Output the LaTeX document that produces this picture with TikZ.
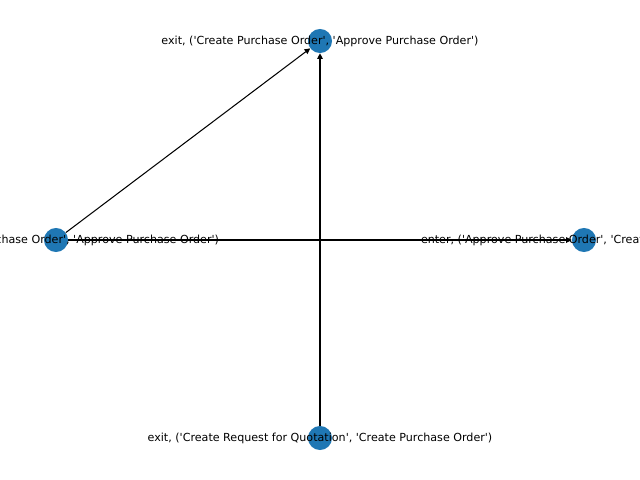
\documentclass[tikz,border=0pt]{standalone}
\usepackage{fontspec}
\setmainfont{DejaVu Sans}[Ligatures=TeXOff]
\usetikzlibrary{arrows.meta}
\definecolor{nxblue}{HTML}{1F77B4}
\tikzset{
  vtx/.style={circle,fill=nxblue,draw=none,minimum size=17.3pt,inner sep=0pt},
  lbl/.style={font=\fontsize{8}{10}\selectfont,inner sep=0pt,text=black},
  edge/.style={draw=black,line width=0.75pt,-{Triangle[length=4pt,width=4pt]}}
}
\begin{document}
\begin{tikzpicture}[x=0.72pt,y=-0.72pt]
\useasboundingbox (0,0) rectangle (640,480);
\clip (0,0) rectangle (640,480);
\node[vtx] (top) at (320,41) {};
\node[vtx] (left) at (56,240) {};
\node[vtx] (right) at (584,240) {};
\node[vtx] (bottom) at (320,438) {};
\draw[edge] (left) -- (top);
\draw[edge] (bottom) -- (top);
\draw[edge] (left) -- (right);
\node[lbl] (ltop) at (320,41) {exit, ('Create Purchase Order', 'Approve Purchase Order')};
\node[lbl] (lleft) at (56,240) {enter, ('Create Purchase Order', 'Approve Purchase Order')};
\node[lbl] (lright) at (584,240) {enter, ('Approve Purchase Order', 'Create Purchase Order')};
\node[lbl] (lbottom) at (320,438) {exit, ('Create Request for Quotation', 'Create Purchase Order')};
\end{tikzpicture}
\end{document}
